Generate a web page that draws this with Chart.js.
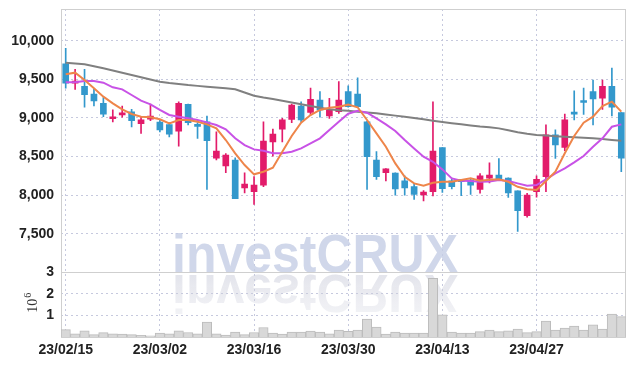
<!DOCTYPE html>
<html>
<head>
<meta charset="utf-8">
<script src="https://cdn.jsdelivr.net/npm/chart.js@4.4.0/dist/chart.umd.min.js"></script>
<style>
  html, body { margin: 0; padding: 0; background: #fff; }
</style>
</head>
<body>
<canvas id="myChart" width="634" height="366"></canvas>
<script>
// Datos: días hábiles
const dates = [
  '23/02/15','23/02/16','23/02/17','23/02/20','23/02/21','23/02/22','23/02/23','23/02/24','23/02/27','23/02/28',
  '23/03/02','23/03/03','23/03/06','23/03/07','23/03/08','23/03/09','23/03/10','23/03/13','23/03/14','23/03/15',
  '23/03/16','23/03/17','23/03/20','23/03/21','23/03/22','23/03/23','23/03/24','23/03/27','23/03/28','23/03/29',
  '23/03/30','23/03/31','23/04/03','23/04/04','23/04/05','23/04/06','23/04/07','23/04/10','23/04/11','23/04/12',
  '23/04/13','23/04/14','23/04/17','23/04/18','23/04/19','23/04/20','23/04/21','23/04/24','23/04/25','23/04/26',
  '23/04/27','23/04/28','23/05/02','23/05/03','23/05/04','23/05/08','23/05/09','23/05/10','23/05/11','23/05/12'
];

const opens = [
  9700,9450,9410,9310,9190,8990,9040,9080,8925,8985,
  8945,8915,8830,9175,8905,8950,8480,8380,8455,8095,
  8045,8130,8690,8855,8980,9155,9070,9230,9025,9080,
  9340,9310,8950,8455,8290,8285,8185,8110,8005,8045,
  8615,8185,8195,8195,8075,8220,8260,8220,8055,7735,
  8045,8240,8780,8620,9070,9210,9340,9255,9410,9070
];
const highs = [
  9900,9630,9630,9370,9265,9105,9155,9110,9010,9180,
  8975,8940,9210,9180,8940,9025,8820,8540,8485,8290,
  8240,8950,8855,8995,9180,9210,9385,9340,9255,9470,
  9415,9520,8960,8565,8345,8290,8250,8140,8060,9210,
  8615,8220,8205,8210,8280,8420,8475,8225,8055,8025,
  8250,8910,8845,9050,9350,9385,9490,9490,9645,9070
];
const lows = [
  9385,9370,9140,9155,9015,8950,9010,8885,8800,8965,
  8820,8755,8635,8910,8735,8075,8455,8290,7955,8030,
  7880,8110,8505,8690,8940,8950,9040,9010,8995,9060,
  9140,9140,8075,8205,8185,8000,8000,7945,7925,7990,
  8035,8080,7995,8010,8025,8160,8195,7970,7530,7715,
  7975,8045,8475,8575,8975,9045,8910,9110,9025,8305
];
const closes = [
  9450,9470,9300,9220,9050,9010,9060,8965,8975,9025,
  8845,8790,9190,8940,8890,8705,8570,8520,7955,8145,
  8130,8700,8790,8975,9165,8975,9240,9105,9105,9230,
  9145,9145,8500,8240,8340,8080,8095,8010,8040,8570,
  8085,8110,8175,8130,8250,8260,8205,8030,7800,8000,
  8205,8780,8650,8975,9050,9200,9245,9410,9140,8480
];
const volumes = [
  340000,150000,290000,110000,200000,150000,140000,110000,80000,60000,
  180000,150000,290000,210000,150000,690000,150000,90000,230000,110000,
  210000,440000,180000,140000,230000,230000,280000,230000,150000,320000,
  260000,320000,830000,460000,140000,230000,180000,180000,180000,2730000,
  1030000,230000,180000,180000,250000,320000,250000,290000,370000,200000,
  250000,740000,320000,420000,510000,320000,560000,370000,1060000,950000
];

// Medias móviles
const ma5 = [
  9565,9586,9491,9384,9275,9189,9112,9051,9016,9008,
  8982,8930,8973,8973,8951,8917,8866,8714,8542,8390,
  8270,8304,8355,8563,8766,8938,9038,9103,9132,9145,
  9172,9138,8973,8801,8628,8412,8239,8153,8122,8161,
  8174,8174,8196,8218,8187,8200,8205,8174,8109,8076,
  8067,8183,8304,8542,8766,8938,9016,9154,9210,9081
];
const ma10 = [
  9461,9461,9478,9478,9456,9396,9370,9297,9223,9176,
  9103,9038,9016,8995,8973,8943,8908,8853,8736,8649,
  8593,8576,8542,8542,8563,8606,8671,8736,8844,8951,
  9055,9094,9068,8995,8917,8831,8714,8606,8498,8433,
  8334,8218,8187,8183,8174,8178,8196,8183,8153,8122,
  8131,8205,8283,8347,8425,8507,8628,8736,8886,8917
];
const ma60 = [
  9715,9705,9694,9670,9643,9615,9586,9556,9526,9497,
  9469,9452,9439,9425,9415,9404,9395,9385,9370,9330,
  9288,9265,9245,9223,9200,9177,9154,9133,9112,9100,
  9092,9080,9070,9060,9045,9030,9016,9000,8982,8964,
  8948,8932,8917,8903,8890,8880,8865,8840,8814,8795,
  8779,8772,8764,8757,8750,8743,8736,8726,8715,8705
];

const priceTicks = [7500, 8000, 8500, 9000, 9500, 10000];
const volTicks = [1000000, 2000000, 3000000];

// Estilos
const RED = 'rgb(226,27,106)';
const BLUE = 'rgb(51,152,204)';
const GRID = '#c6c9de';
const TICK_FONT = { family: '"Liberation Sans", Arial, sans-serif', size: 14, weight: 'bold' };
const MARK = 'investCRUX';

const candleColors = dates.map((d, i) => closes[i] >= opens[i] ? RED : BLUE);

// Sin relleno extra de Chart.js alrededor de los ejes
const noPad = s => { s.paddingTop = 0; s.paddingBottom = 0; s.paddingLeft = 0; s.paddingRight = 0; };

// Marca de agua, borde y etiqueta 10^6
const decor = {
  id: 'decor',
  beforeDatasetsDraw(chart) {
    const { ctx, chartArea } = chart;
    const yv = chart.scales.yv;
    ctx.save();
    ctx.font = 'bold 53px "Liberation Sans", Arial, sans-serif';
    const w = ctx.measureText(MARK).width;
    ctx.translate(315, yv.top);
    ctx.scale(286 / w, 1);
    ctx.textAlign = 'center';
    ctx.textBaseline = 'alphabetic';
    ctx.fillStyle = 'rgba(196,205,229,0.8)';
    ctx.fillText(MARK, 0, 0);
    ctx.scale(1, -1);
    const g = ctx.createLinearGradient(0, -3, 0, -42);
    g.addColorStop(0, 'rgba(205,207,220,0.55)');
    g.addColorStop(1, 'rgba(205,207,220,0.25)');
    ctx.fillStyle = g;
    ctx.fillText(MARK, 0, -3);
    ctx.restore();

    ctx.save();
    ctx.strokeStyle = '#cfcfcf';
    ctx.lineWidth = 1;
    ctx.strokeRect(Math.round(chartArea.left) + 0.5, Math.round(chartArea.top) + 0.5,
      Math.round(chartArea.right - chartArea.left) - 1, Math.round(chartArea.bottom - chartArea.top));
    ctx.beginPath();
    ctx.moveTo(chartArea.left, Math.round(yv.top) + 0.5);
    ctx.lineTo(chartArea.right, Math.round(yv.top) + 0.5);
    ctx.stroke();
    ctx.restore();
  },
  afterDraw(chart) {
    const ctx = chart.ctx;
    const yv = chart.scales.yv;
    ctx.save();
    ctx.translate(37, (yv.top + yv.bottom) / 2 + 8);
    ctx.rotate(-Math.PI / 2);
    ctx.fillStyle = '#333';
    ctx.textBaseline = 'alphabetic';
    ctx.font = '14px "Liberation Serif", "DejaVu Serif", serif';
    ctx.fillText('10', 0, 0);
    const w = ctx.measureText('10').width;
    ctx.font = '10px "Liberation Serif", "DejaVu Serif", serif';
    ctx.fillText('6', w + 1, -6);
    ctx.restore();
  }
};

const config = {
  type: 'bar',
  data: {
    labels: dates,
    datasets: [
      { type: 'line', label: 'MA5', data: ma5, borderColor: 'rgb(238,133,74)', borderWidth: 2,
        pointRadius: 0, tension: 0, yAxisID: 'y', order: 0 },
      { type: 'line', label: 'MA10', data: ma10, borderColor: 'rgb(200,82,230)', borderWidth: 2,
        pointRadius: 0, tension: 0, yAxisID: 'y', order: 0 },
      { type: 'line', label: 'MA60', data: ma60, borderColor: 'rgb(128,128,128)', borderWidth: 2,
        pointRadius: 0, tension: 0, yAxisID: 'y', order: 0 },
      { label: 'body', data: dates.map((d, i) => [opens[i], closes[i]]), backgroundColor: candleColors,
        barThickness: 6, minBarLength: 2, grouped: false, yAxisID: 'y', order: 1 },
      { label: 'wick', data: dates.map((d, i) => [lows[i], highs[i]]), backgroundColor: candleColors,
        barThickness: 1, grouped: false, yAxisID: 'y', order: 2 },
      { label: 'volume', data: volumes, backgroundColor: '#d8d8d8', borderColor: '#bcbcbc', borderWidth: 1,
        barPercentage: 1, categoryPercentage: 1, grouped: false, yAxisID: 'yv', order: 3 }
    ]
  },
  options: {
    responsive: false,
    animation: false,
    layout: { padding: { top: 9, right: 8, left: 0, bottom: 0 } },
    plugins: { legend: { display: false }, tooltip: { enabled: false } },
    scales: {
      x: {
        type: 'category',
        offset: true,
        grid: { offset: false, color: GRID, drawTicks: false },
        border: { display: false, dash: [2, 3] },
        ticks: { autoSkip: false, maxRotation: 0, padding: 5, font: TICK_FONT, color: '#222' },
        afterBuildTicks: s => { s.ticks = s.ticks.filter(t => t.value % 10 === 0); },
        afterFit: s => { s.height = 29; noPad(s); }
      },
      // en una pila a la izquierda, el último eje definido queda arriba
      yv: {
        position: 'left',
        stack: 'main',
        stackWeight: 64.6,
        min: 0,
        max: 3000000,
        grid: { color: GRID, drawTicks: false },
        border: { display: false, dash: [2, 3] },
        ticks: { autoSkip: false, padding: 7, font: TICK_FONT, color: '#222', callback: v => v / 1000000 },
        afterBuildTicks: s => { s.ticks = volTicks.map(v => ({ value: v })); },
        afterFit: s => { s.width = 61; noPad(s); }
      },
      y: {
        position: 'left',
        stack: 'main',
        stackWeight: 263.7,
        min: 7000,
        max: 10410,
        grid: { color: GRID, drawTicks: false },
        border: { display: false, dash: [2, 3] },
        ticks: { autoSkip: false, padding: 7, font: TICK_FONT, color: '#222', callback: v => v.toLocaleString('en-US') },
        afterBuildTicks: s => { s.ticks = priceTicks.map(v => ({ value: v })); },
        afterFit: s => { s.width = 61; noPad(s); }
      }
    }
  },
  plugins: [decor]
};

new Chart(document.getElementById('myChart'), config);
</script>
</body>
</html>
